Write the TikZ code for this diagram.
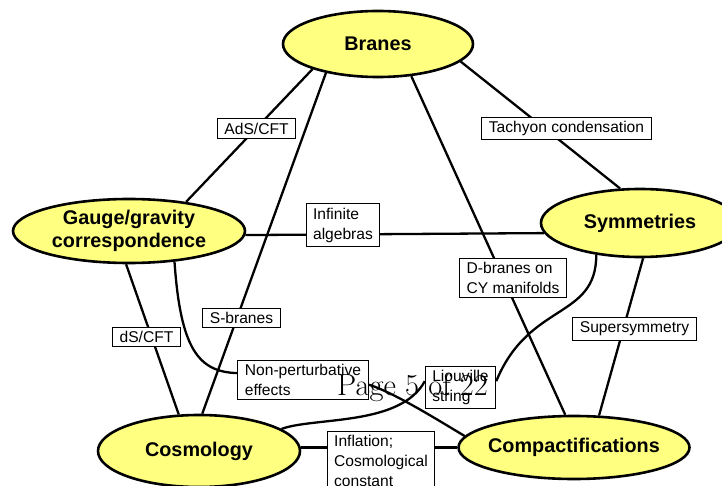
\documentclass[tikz,border=0pt]{standalone}
\usepackage{fontspec}
\newfontfamily\arial{Liberation Sans}
\usetikzlibrary{shapes.geometric,backgrounds}
\definecolor{topicfill}{HTML}{FFFF80}

\begin{document}
\begin{tikzpicture}[x=1pt,y=-1pt,
  topic/.style={ellipse,draw,line width=2.6pt,fill=topicfill,inner sep=0pt,align=center,
    font=\arial\bfseries\fontsize{19.8}{23.5}\selectfont},
  link/.style={draw,fill=white,line width=1.1pt,inner xsep=7pt,inner ysep=4pt,align=left,
    font=\arial\fontsize{15.6}{20}\selectfont},
  conn/.style={line width=2.3pt}]
 \useasboundingbox(0,0)rectangle(722,486);
 \node[topic,minimum width=190pt,minimum height=66pt](branes)at(378,44){Branes};
 \node[topic,minimum width=232pt,minimum height=64pt](gauge)at(129,231){Gauge/gravity\\correspondence};
 \node[topic,minimum width=198pt,minimum height=68pt](sym)at(640,223){Symmetries};
 \node[topic,minimum width=202pt,minimum height=72pt](cosmo)at(199,451){Cosmology};
 \node[topic,inner xsep=-5pt,minimum width=231pt,minimum height=63pt](comp)at(574,447.5){Compactifications};
 \node[link](ads)at(256.5,128.5){AdS/CFT};
 \node[link](tach)at(566.5,128.5){Tachyon condensation};
 \node[link](inf)at(343,225){Infinite\\algebras};
 \node[link](dbr)at(513,278){D-branes on\\CY manifolds};
 \node[link](susy)at(634.5,329){Supersymmetry};
 \node[link](ds)at(146.5,337){dS/CFT};
 \node[link](sbr)at(241.5,318){S-branes};
 \node[link](npe)at(303,380){Non-perturbative\\effects};
 \node[link](ls)at(460.5,387.5){Liouville\\string};
 \node[link,anchor=north](infl)at(381,431){Inflation;\\Cosmological\\constant};
 \begin{pgfonlayer}{background}
  \draw[conn](branes.201)--(gauge.27);
  \draw[conn](branes.209)--(cosmo.85);
  \draw[conn](branes.-44)--(comp.105);
  \draw[conn](branes.-12)--(sym.120);
  \draw[conn](gauge.-2)--(sym.186);
  \draw[conn](gauge.-95)--(cosmo.119);
  \draw[conn](sym.-85)--(comp.52);
  \draw[conn](cosmo.2)--(cosmo.2-|comp.west);
  \draw[conn](gauge.-34)..controls +(6,87) and +(-39,-1)..(npe.174);
  \draw[conn](npe.-4)..controls +(25,8) and +(-30,-18)..(comp.174);
  \draw[conn](sym.216)..controls +(0,65) and +(33,-80)..(ls.10);
  \draw[conn](ls.170)..controls +(-24,45) and +(33,-12)..(cosmo.15);
 \end{pgfonlayer}
 \node[anchor=base west,inner sep=0pt,font=\fontsize{30.5}{33}\selectfont](page)at(337,395){Page 5 of 22};
\end{tikzpicture}
\end{document}
